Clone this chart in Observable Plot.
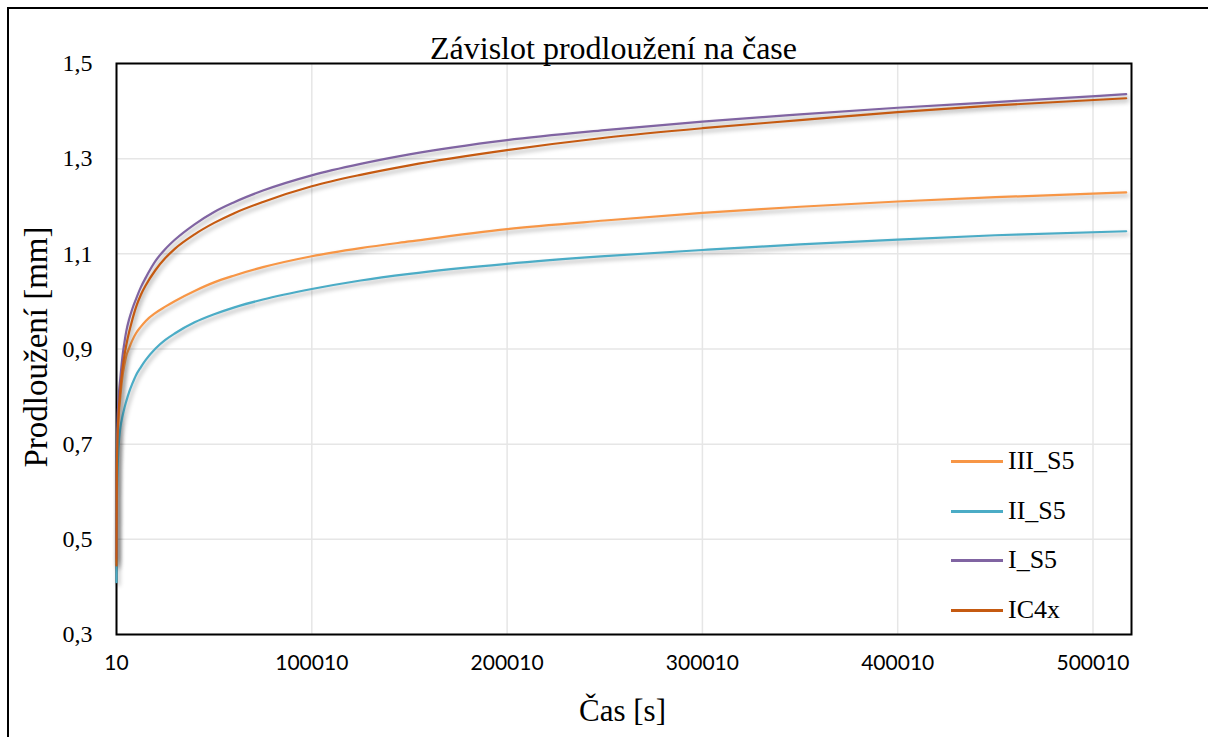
<!DOCTYPE html>
<html><head><meta charset="utf-8">
<script src="https://cdn.jsdelivr.net/npm/d3@7"></script>
<script src="https://cdn.jsdelivr.net/npm/@observablehq/plot@0.6"></script>
<style>
html,body{margin:0;padding:0;background:#fff;overflow:hidden;}
#wrap{position:relative;width:1208px;height:737px;overflow:hidden;background:#fff;}
#border{position:absolute;left:7px;top:7px;width:1400px;height:900px;border:2px solid #000;box-sizing:border-box;}
#chart{position:absolute;left:0;top:0;}
.t{position:absolute;font-family:"Liberation Serif","Times New Roman",serif;color:#000;line-height:1;white-space:nowrap;}
g[aria-label="line"] path{filter:drop-shadow(2px 3px 2px rgba(0,0,0,0.33));}
.lg{position:absolute;height:2.5px;width:52px;}
</style></head><body>
<div id="wrap">
  <div id="border"></div>
  <div id="chart"></div>
  <div class="t" id="title" style="left:0;width:1227px;text-align:center;top:32px;font-size:32px;">Závislot prodloužení na čase</div>
  <div class="t" id="xtitle" style="left:0;width:1245px;text-align:center;top:695px;font-size:31px;">Čas [s]</div>
  <div class="t" id="ytitle" style="left:36px;top:347px;font-size:33px;transform:translate(-50%,-50%) rotate(-90deg);">Prodloužení [mm]</div>
  <div id="legend"></div>
</div>
<script>
// ---- data ----
const seriesNames = ["III_S5", "II_S5", "I_S5", "IC4x"];
const seriesColors = ["#F79646", "#4BACC6", "#8064A2", "#C55A11"];
const times = [10, 200, 500, 1000, 2000, 3000, 4000, 5000, 6500, 8000, 10000, 12500, 15000, 20000, 25000, 30000, 40000, 50000, 60000, 75000, 100000, 125000, 150000, 200000, 250000, 300000, 350000, 400000, 450000, 517000];
const valuesIII_S5 = [0.45, 0.64, 0.70, 0.75, 0.80, 0.84, 0.865, 0.885, 0.902, 0.917, 0.933, 0.947, 0.959, 0.976, 0.989, 1.001, 1.022, 1.040, 1.054, 1.072, 1.095, 1.112, 1.126, 1.152, 1.170, 1.186, 1.199, 1.210, 1.219, 1.229];
const valuesII_S5  = [0.41, 0.58, 0.64, 0.69, 0.735, 0.757, 0.775, 0.79, 0.81, 0.826, 0.845, 0.862, 0.877, 0.901, 0.919, 0.933, 0.956, 0.973, 0.987, 1.004, 1.026, 1.044, 1.058, 1.079, 1.095, 1.108, 1.120, 1.130, 1.139, 1.1475];
const valuesI_S5   = [0.46, 0.66, 0.74, 0.79, 0.84, 0.882, 0.912, 0.937, 0.963, 0.983, 1.005, 1.030, 1.050, 1.085, 1.110, 1.130, 1.162, 1.188, 1.208, 1.233, 1.265, 1.289, 1.309, 1.339, 1.360, 1.378, 1.393, 1.407, 1.419, 1.4355];
const valuesIC4x   = [0.445, 0.64, 0.71, 0.76, 0.815, 0.855, 0.885, 0.908, 0.936, 0.96, 0.988, 1.014, 1.034, 1.066, 1.091, 1.111, 1.141, 1.165, 1.185, 1.209, 1.242, 1.266, 1.286, 1.318, 1.344, 1.364, 1.381, 1.398, 1.412, 1.427];
const xTicks = [10, 100010, 200010, 300010, 400010, 500010];
const yTicks = [0.3, 0.5, 0.7, 0.9, 1.1, 1.3, 1.5];
const xDomain = [10, 519720];
const yDomain = [0.3, 1.5];

// ---- build table ----
const seriesValues = [valuesIII_S5, valuesII_S5, valuesI_S5, valuesIC4x];
const rows = [];
seriesNames.forEach((name, i) => {
  times.forEach((t, j) => rows.push({series: name, t, v: seriesValues[i][j]}));
});

const chart = Plot.plot({
  width: 1208,
  height: 737,
  marginLeft: 116,
  marginTop: 63,
  marginRight: 77,
  marginBottom: 103,
  style: {background: "transparent", overflow: "visible"},
  x: {domain: xDomain, label: null},
  y: {domain: yDomain, label: null},
  color: {domain: seriesNames, range: seriesColors},
  marks: [
    Plot.gridX(xTicks, {stroke: "#e6e6e6", strokeOpacity: 1, strokeWidth: 1.5}),
    Plot.gridY(yTicks, {stroke: "#e6e6e6", strokeOpacity: 1, strokeWidth: 1.5}),
    Plot.frame({stroke: "#000", strokeWidth: 2}),
    Plot.axisX(xTicks, {tickSize: 0, tickPadding: 21, tickFormat: d => String(d), fontFamily: "Lato", fontSize: 21, fill: "#000", label: null}),
    Plot.axisY(yTicks, {tickSize: 0, tickPadding: 24, tickFormat: d => d.toFixed(1).replace(".", ","), fontFamily: "Liberation Serif", fontSize: 24, fill: "#000", label: null}),
    Plot.line(rows, {x: "t", y: "v", z: "series", stroke: "series", strokeWidth: 2.2, curve: "monotone-x"})
  ]
});
document.getElementById("chart").appendChild(chart);

// ---- legend (HTML overlay) ----
const legend = document.getElementById("legend");
const legendRowY = [461, 511, 560, 610];
seriesNames.forEach((name, i) => {
  const ln = document.createElement("div");
  ln.className = "lg";
  ln.style.left = "951px";
  ln.style.top = (legendRowY[i] - 1) + "px";
  ln.style.background = seriesColors[i];
  legend.appendChild(ln);
  const tx = document.createElement("div");
  tx.className = "t";
  tx.style.left = "1008px";
  tx.style.top = (legendRowY[i] - 13) + "px";
  tx.style.fontSize = "26px";
  tx.textContent = name;
  legend.appendChild(tx);
});
</script>
</body></html>
